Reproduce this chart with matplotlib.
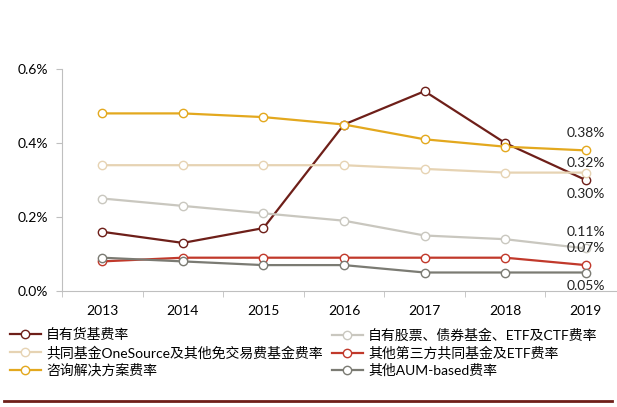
import matplotlib
matplotlib.use("Agg")
import matplotlib.pyplot as plt
from matplotlib.lines import Line2D

plt.rcParams['font.family'] = ['Lato', 'Noto Sans CJK SC', 'DejaVu Sans']

# 数据
years = ['2013', '2014', '2015', '2016', '2017', '2018', '2019']

money_fund = [0.16, 0.13, 0.17, 0.45, 0.54, 0.40, 0.30]
equity_bond = [0.25, 0.23, 0.21, 0.19, 0.15, 0.14, 0.115]
onesource = [0.34, 0.34, 0.34, 0.34, 0.33, 0.32, 0.32]
third_party = [0.08, 0.09, 0.09, 0.09, 0.09, 0.09, 0.07]
advisory = [0.48, 0.48, 0.47, 0.45, 0.41, 0.39, 0.38]
other_aum = [0.09, 0.08, 0.07, 0.07, 0.05, 0.05, 0.05]

names = ['自有货基费率', '自有股票、债券基金、ETF及CTF费率',
         '共同基金OneSource及其他免交易费基金费率', '其他第三方共同基金及ETF费率',
         '咨询解决方案费率', '其他AUM-based费率']
series = [money_fund, equity_bond, onesource, third_party, advisory, other_aum]
colors = ['#6E1F19', '#C9C7BF', '#E6D3B3', '#C1392B', '#E3A81E', '#7B7B73']

# 末端标签: (文字, 数值, 偏移像素)
end_labels = [('0.38%', 0.38, 17), ('0.32%', 0.32, 10), ('0.30%', 0.30, -14),
              ('0.11%', 0.115, 16), ('0.07%', 0.07, 17), ('0.05%', 0.05, -13)]

fig = plt.figure(figsize=(6.17, 4.07), dpi=100)
ax = fig.add_axes([62 / 617, 116 / 407, 564 / 617, 222 / 407])

x = list(range(len(years)))
handles = []
for name, vals, c in zip(names, series, colors):
    h, = ax.plot(x, vals, color=c, lw=1.6, marker='o', markersize=6,
                 markerfacecolor='white', markeredgecolor=c, markeredgewidth=1,
                 label=name)
    handles.append(h)

for txt, v, dy in end_labels:
    ax.annotate(txt, (6, v), xytext=(0, dy), textcoords='offset pixels',
                ha='center', va='center', fontsize=10, color='#222222')

ax.set_xlim(-0.5, 6.5)
ax.set_ylim(0, 0.6)
ax.set_yticks([0, 0.2, 0.4, 0.6])
ax.set_yticklabels(['0.0%', '0.2%', '0.4%', '0.6%'])
ax.set_xticks(x)
ax.set_xticklabels(years)
ax.set_xticks([i - 0.5 for i in range(8)], minor=True)
ax.tick_params(axis='x', which='major', length=0, pad=10, labelsize=10)
ax.tick_params(axis='x', which='minor', length=4, color='#BFBFBF')
ax.tick_params(axis='y', length=4, color='#BFBFBF', labelsize=10, pad=6)

for s in ['top', 'right']:
    ax.spines[s].set_visible(False)
for s in ['left', 'bottom']:
    ax.spines[s].set_color('#BFBFBF')

# 图例 (两列, 按行排列)
leg_kw = dict(frameon=False, fontsize=10, handlelength=2.2, handletextpad=0.4,
              labelspacing=0.3, borderaxespad=0, borderpad=0)
leg1 = fig.legend(handles[0::2], names[0::2], loc='upper left',
                  bbox_to_anchor=(10 / 617, 1 - 328 / 407), **leg_kw)
leg2 = fig.legend(handles[1::2], names[1::2], loc='upper left',
                  bbox_to_anchor=(332 / 617, 1 - 328 / 407), **leg_kw)

fig.add_artist(Line2D([4 / 617, 612 / 617], [6 / 407, 6 / 407],
                      transform=fig.transFigure, color='#6E1F19', lw=2))

fig.savefig('out.png', dpi=100)
